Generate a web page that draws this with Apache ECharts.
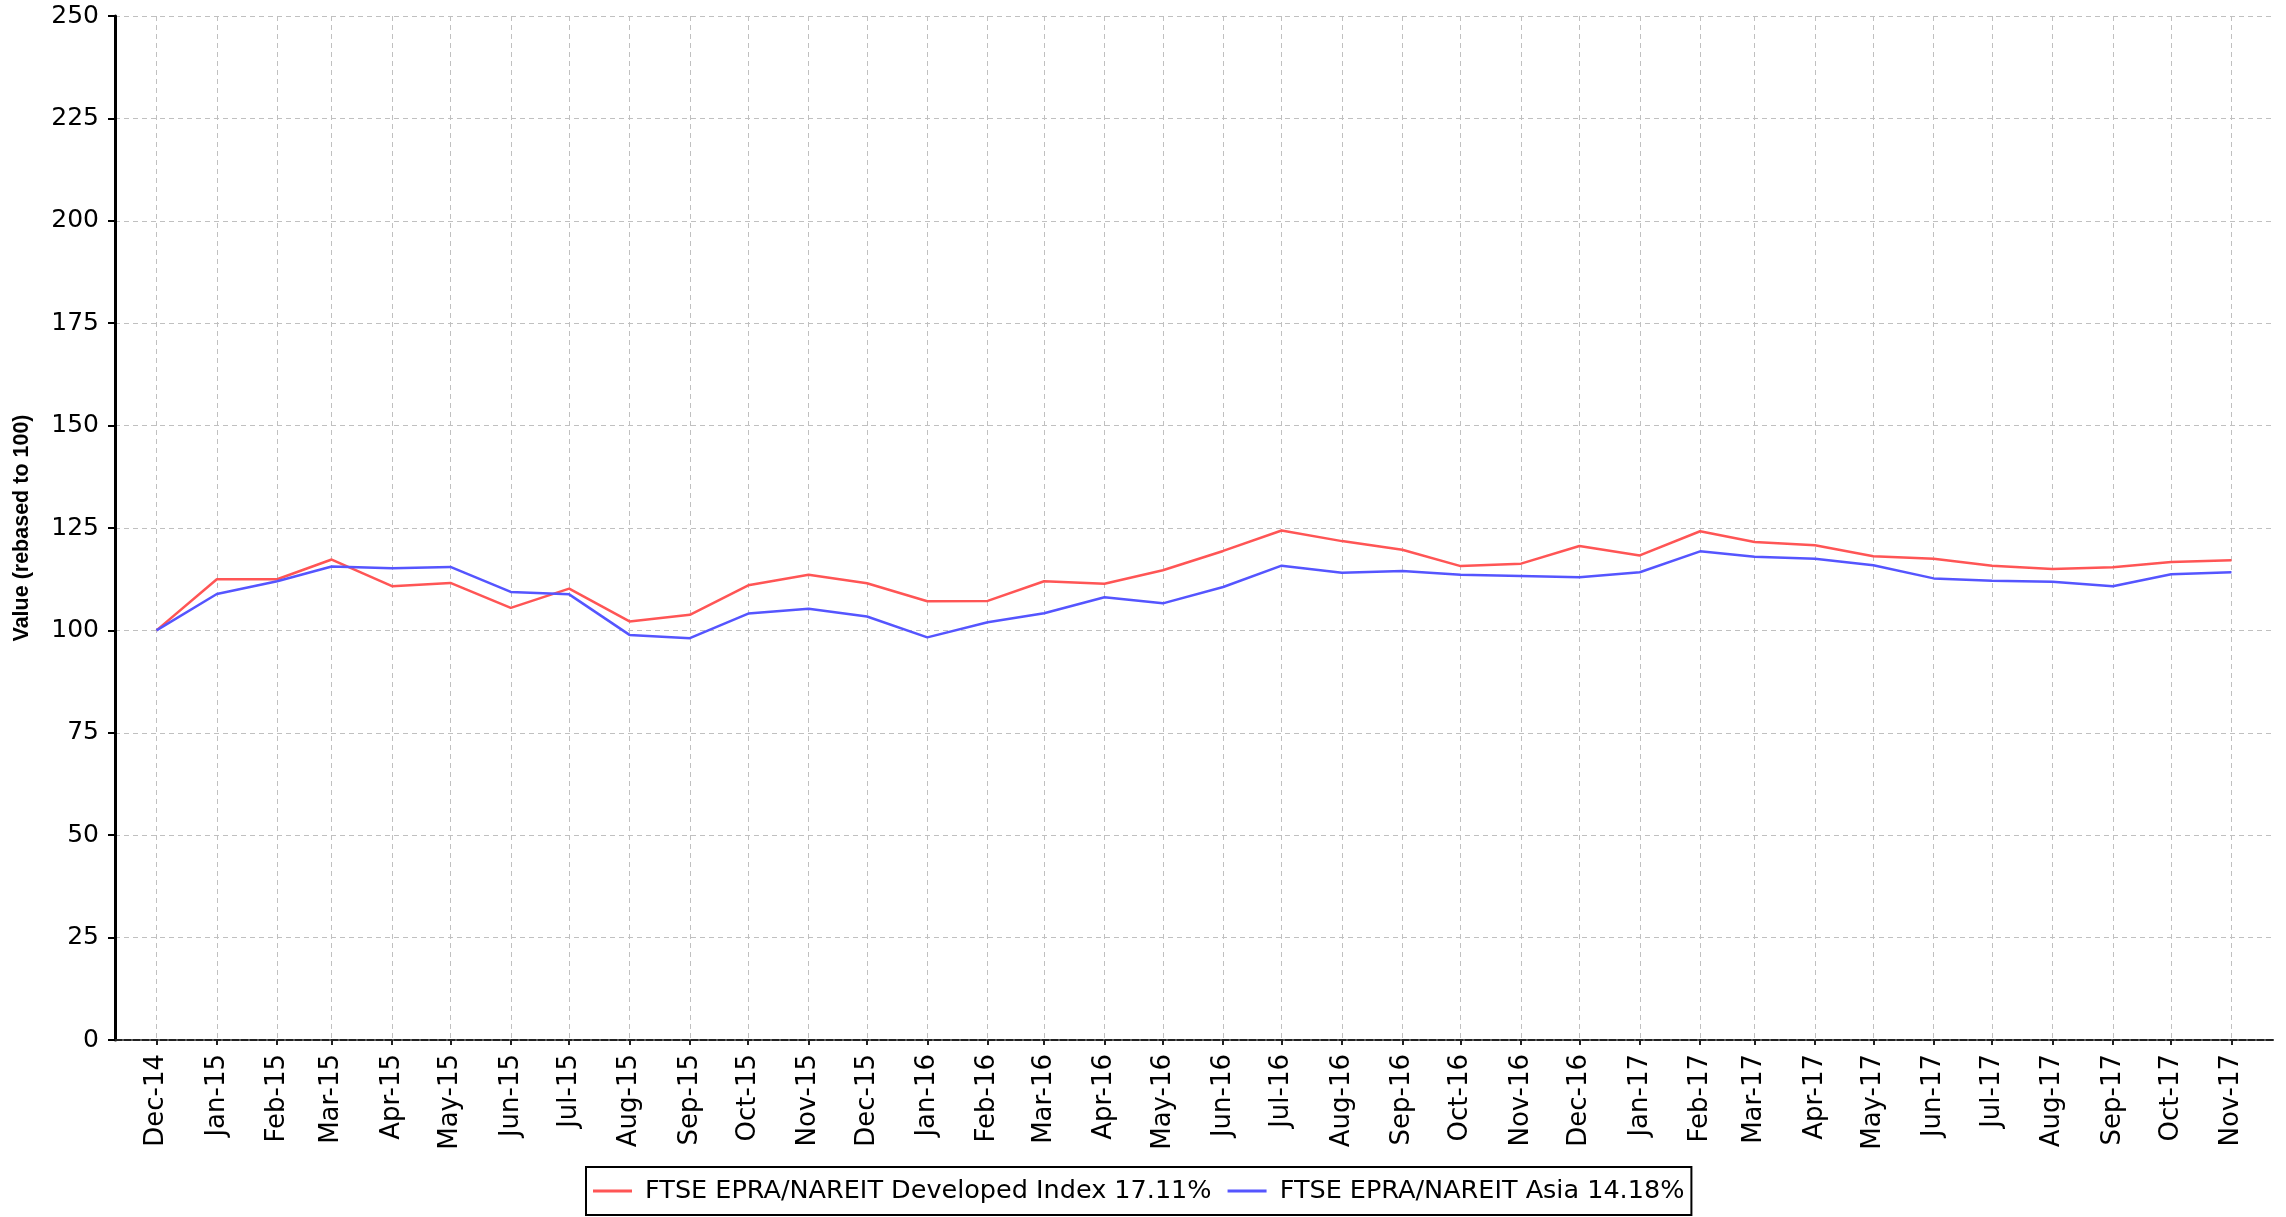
<!DOCTYPE html>
<html>
<head>
<meta charset="utf-8">
<title>FTSE EPRA/NAREIT</title>
<script src="https://cdn.jsdelivr.net/npm/echarts@6/dist/echarts.min.js"></script>
<style>
html, body { margin: 0; padding: 0; background: #fff; }
#chart { width: 2286px; height: 1217px; }
</style>
</head>
<body>
<div id="chart"></div>
<script>
var months = ["Dec-14", "Jan-15", "Feb-15", "Mar-15", "Apr-15", "May-15", "Jun-15", "Jul-15", "Aug-15", "Sep-15", "Oct-15", "Nov-15",
    "Dec-15", "Jan-16", "Feb-16", "Mar-16", "Apr-16", "May-16", "Jun-16", "Jul-16", "Aug-16", "Sep-16", "Oct-16", "Nov-16",
    "Dec-16", "Jan-17", "Feb-17", "Mar-17", "Apr-17", "May-17", "Jun-17", "Jul-17", "Aug-17", "Sep-17", "Oct-17", "Nov-17"];
var developed = [100, 112.5, 112.5, 117.3, 110.8, 111.6, 105.5, 110.2, 102.2, 103.8, 111.0, 113.6,
    111.5, 107.1, 107.2, 112.0, 111.4, 114.7, 119.4, 124.4, 121.8, 119.7, 115.7, 116.3,
    120.6, 118.3, 124.2, 121.6, 120.8, 118.1, 117.5, 115.8, 115.0, 115.4, 116.7, 117.11];
var asia = [100, 108.9, 112.0, 115.6, 115.2, 115.5, 109.4, 108.8, 98.9, 98.1, 104.1, 105.3,
    103.4, 98.3, 102.0, 104.2, 108.1, 106.6, 110.6, 115.8, 114.1, 114.5, 113.6, 113.3,
    113.0, 114.2, 119.3, 118.0, 117.5, 115.9, 112.7, 112.1, 111.9, 110.8, 113.7, 114.18];
var seriesNames = ["FTSE EPRA/NAREIT Developed Index 17.11%", "FTSE EPRA/NAREIT Asia 14.18%"];
var yTicks = [0, 25, 50, 75, 100, 125, 150, 175, 200, 225, 250];

var monthIdx = { Jan: 0, Feb: 1, Mar: 2, Apr: 3, May: 4, Jun: 5, Jul: 6, Aug: 7, Sep: 8, Oct: 9, Nov: 10, Dec: 11 };

// month label -> day number of the 1st of that month
function toDay(label) {
    var p = label.split("-");
    return Date.UTC(2000 + parseInt(p[1], 10), monthIdx[p[0]], 1) / 86400000;
}

var days = months.map(toDay);
var labelOf = {};
days.forEach(function (d, i) { labelOf[d] = months[i]; });

function pairs(values) {
    return values.map(function (v, i) { return [days[i], v]; });
}

// 2% margin either side of the date range
var span = days[days.length - 1] - days[0];
var xMin = days[0] - span * 0.02;
var xMax = days[days.length - 1] + span * 0.02;

var font = "DejaVu Sans";
var grid = { color: "#c0c0c0", width: 1, type: [5, 4] };

var chart = echarts.init(document.getElementById("chart"), null, { renderer: "canvas" });
chart.setOption({
    animation: false,
    backgroundColor: "#fff",
    grid: { left: 115, right: 13, top: 16, bottom: 177, containLabel: false },
    legend: {
        left: 586,
        bottom: 2,
        orient: "horizontal",
        borderColor: "#000",
        borderWidth: 2,
        padding: [11, 7],
        itemWidth: 39,
        itemHeight: 3,
        itemGap: 16,
        icon: "rect",
        formatter: function (n) { return " " + n; },
        textStyle: { fontFamily: font, fontSize: 25.5, color: "#000" },
        data: seriesNames
    },
    xAxis: {
        type: "value",
        min: xMin,
        max: xMax,
        axisLine: { show: true, onZero: false, lineStyle: { color: "#222", width: 2, type: [7, 2] } },
        axisTick: { show: true, length: 5, customValues: days, lineStyle: { color: "#222", width: 2 } },
        axisLabel: {
            customValues: days,
            rotate: 90,
            margin: 14,
            fontFamily: font,
            fontSize: 26,
            color: "#000",
            formatter: function (v) { return labelOf[v] || ""; }
        },
        splitLine: { show: true, lineStyle: grid }
    },
    yAxis: {
        type: "value",
        min: yTicks[0],
        max: yTicks[yTicks.length - 1],
        interval: yTicks[1] - yTicks[0],
        name: "Value (rebased to 100)",
        nameLocation: "middle",
        nameGap: 82,
        nameTextStyle: { fontFamily: "Liberation Sans", fontWeight: "bold", fontSize: 21.5, color: "#000" },
        axisLine: { show: true, lineStyle: { color: "#000", width: 3 } },
        axisTick: { show: true, length: 7, lineStyle: { color: "#000", width: 2 } },
        axisLabel: { margin: 16, fontFamily: font, fontSize: 25, color: "#000" },
        splitLine: { show: true, lineStyle: grid }
    },
    series: [
        {
            name: seriesNames[0],
            type: "line",
            data: pairs(developed),
            showSymbol: false,
            color: "#ff5555",
            lineStyle: { width: 2.5, color: "#ff5555" }
        },
        {
            name: seriesNames[1],
            type: "line",
            data: pairs(asia),
            showSymbol: false,
            color: "#5555ff",
            lineStyle: { width: 2.5, color: "#5555ff" }
        }
    ]
});
</script>
</body>
</html>
